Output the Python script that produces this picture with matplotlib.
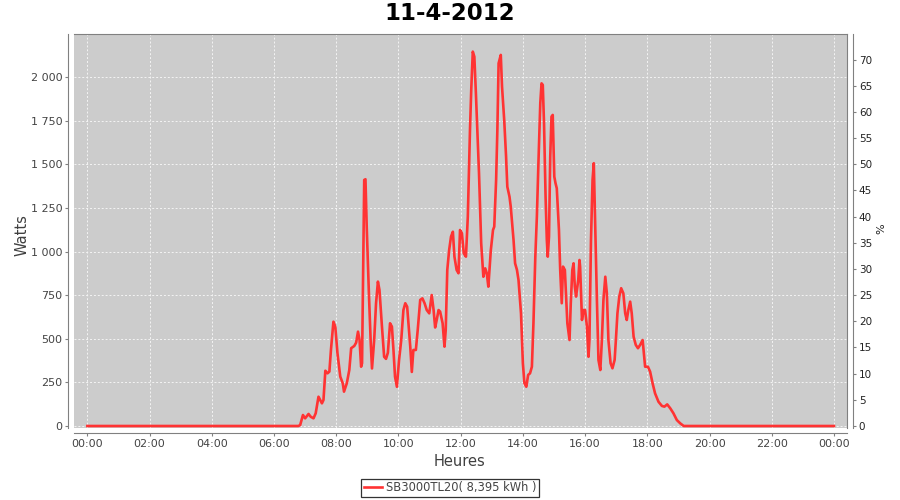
import numpy as np
import matplotlib
matplotlib.use('Agg')
import matplotlib.pyplot as plt
from matplotlib.ticker import FuncFormatter

plt.rcParams['font.family'] = ['DejaVu Sans']

# heure (en heures décimales) et puissance (W)
heures = [0.00, 6.78, 6.84, 6.93, 7.00, 7.11, 7.18, 7.27, 7.34, 7.43, 7.54, 7.59,
          7.65, 7.72, 7.78, 7.83, 7.91, 7.97, 8.04, 8.13, 8.21, 8.25, 8.34, 8.42,
          8.48, 8.58, 8.64, 8.70, 8.75, 8.80, 8.83, 8.90, 8.94, 8.98, 9.05, 9.11,
          9.15, 9.22, 9.28, 9.34, 9.39, 9.47, 9.54, 9.60, 9.66, 9.73, 9.79, 9.84,
          9.89, 9.95, 10.02, 10.09, 10.16, 10.22, 10.28, 10.32, 10.38, 10.43, 10.48,
          10.56, 10.62, 10.70, 10.77, 10.84, 10.91, 10.99, 11.07, 11.13, 11.18, 11.23,
          11.29, 11.34, 11.42, 11.48, 11.52, 11.57, 11.63, 11.69, 11.75, 11.80, 11.87,
          11.93, 11.98, 12.04, 12.10, 12.17, 12.23, 12.30, 12.34, 12.39, 12.44, 12.49,
          12.55, 12.59, 12.66, 12.73, 12.79, 12.84, 12.89, 12.97, 13.04, 13.08, 13.14,
          13.18, 13.22, 13.29, 13.33, 13.40, 13.46, 13.50, 13.57, 13.61, 13.70, 13.75,
          13.81, 13.86, 13.94, 14.00, 14.05, 14.11, 14.17, 14.23, 14.29, 14.34, 14.40,
          14.45, 14.50, 14.56, 14.60, 14.64, 14.68, 14.73, 14.77, 14.80, 14.84, 14.88,
          14.92, 14.96, 15.01, 15.05, 15.09, 15.16, 15.20, 15.25, 15.29, 15.35, 15.39,
          15.43, 15.50, 15.54, 15.59, 15.63, 15.67, 15.71, 15.78, 15.82, 15.84, 15.90,
          15.95, 16.00, 16.06, 16.11, 16.14, 16.19, 16.24, 16.28, 16.32, 16.38, 16.43,
          16.49, 16.54, 16.59, 16.65, 16.70, 16.75, 16.82, 16.88, 16.95, 16.99, 17.04,
          17.10, 17.16, 17.23, 17.29, 17.34, 17.39, 17.45, 17.50, 17.56, 17.63, 17.70,
          17.77, 17.85, 17.89, 17.93, 18.02, 18.09, 18.17, 18.25, 18.36, 18.47, 18.55,
          18.64, 18.74, 18.84, 18.95, 19.06, 19.17, 24.00]
watts = [0, 0, 5, 63, 44, 69, 53, 44, 73, 168, 130, 149,
         317, 302, 312, 436, 598, 570, 417, 283, 245, 197, 245, 321,
         446, 459, 478, 541, 493, 340, 360, 1411, 1415, 1143, 761, 474,
         330, 493, 704, 828, 780, 570, 397, 385, 420, 589, 570, 436,
         283, 225, 379, 493, 665, 704, 684, 589, 455, 310, 436,
         436, 551, 723, 732, 704, 665, 646, 751, 665, 565, 608,
         665, 656, 589, 455, 551, 895, 1009, 1086, 1114, 971, 895,
         876, 1124, 1105, 990, 971, 1200, 1698, 1927, 2147, 2118, 1908,
         1640, 1449, 1048, 856, 904, 876, 799, 1009, 1124, 1143, 1411,
         1698, 2080, 2128, 1946, 1755, 1545, 1372, 1315, 1258, 1067, 933,
         895, 837, 646, 360, 245, 225, 293, 302, 340, 589, 971,
         1200, 1507, 1851, 1965, 1956, 1736, 1315, 1067, 971, 1086, 1545,
         1774, 1784, 1430, 1392, 1363, 1124, 895, 704, 914, 895, 742,
         589, 493, 704, 895, 933, 799, 742, 837, 952, 914, 608,
         665, 665, 570, 397, 493, 1067, 1411, 1507, 1182, 723, 379,
         321, 493, 723, 856, 761, 493, 360, 331, 379, 493, 646,
         742, 790, 761, 646, 608, 665, 713, 646, 512, 465, 446,
         465, 493, 417, 340, 340, 312, 245, 187, 139, 115, 111,
         124, 101, 73, 34, 15, 0, 0]

titre = '11-4-2012'
legende = 'SB3000TL20( 8,395 kWh )'
xticks = list(range(0, 25, 2))
xlabels = ['%02d:00' % (h % 24) for h in xticks]
yticks_w = list(range(0, 2001, 250))
yticks_pct = list(range(0, 71, 5))

fig = plt.figure(figsize=(9, 5), dpi=100)
ax = fig.add_axes([74/900, 1-427.5/500, (847-74)/900, (427.5-34)/500])
ax.set_facecolor('#cccccc')
ax.set_xlim(-0.43, 24.42)
ax.set_ylim(-8.6, 2248)

ax.set_axisbelow(True)
ax.grid(color='#f4f4f4', linestyle=(0, (2, 2)), linewidth=0.7)

ligne, = ax.plot(heures, watts, color='#ff3333', lw=1.9, solid_joinstyle='round')

ax.set_xticks(xticks)
ax.set_xticklabels(xlabels)
ax.set_yticks(yticks_w)
ax.yaxis.set_major_formatter(FuncFormatter(lambda v, p: '{:,}'.format(int(v)).replace(',', ' ')))
ax.tick_params(axis='both', direction='out', length=2.5, width=0.8, color='#808080',
               labelsize=8, labelcolor='#444444', pad=2)

for s in ['left', 'bottom']:
    ax.spines[s].set_position(('outward', 4))
    ax.spines[s].set_color('#808080')
for s in ['top', 'right']:
    ax.spines[s].set_color('#808080')
    ax.spines[s].set_linewidth(0.8)

ax2 = ax.twinx()
ax2.set_ylim(-0.29, 74.9)
ax2.set_yticks(yticks_pct)
ax2.tick_params(axis='y', direction='out', length=2.5, width=0.8, color='#808080',
                labelsize=7.5, labelcolor='#222222', pad=2)
for s in ['left', 'bottom', 'top']:
    ax2.spines[s].set_visible(False)
ax2.spines['right'].set_position(('outward', 4))
ax2.spines['right'].set_color('#808080')

fig.text(0.5, 1-13.5/500, titre, ha='center', va='center', fontsize=16.5, fontweight='bold')
fig.text(22/900, 1-235/500, 'Watts', rotation=90, ha='center', va='center',
         fontsize=10.5, color='#404040')
fig.text(460/900, 1-461/500, 'Heures', ha='center', va='center',
         fontsize=10.5, color='#404040')
fig.text(881/900, 1-229/500, '%', rotation=90, ha='center', va='center',
         fontsize=8, color='#222222')

leg = fig.legend([ligne], [legende], loc='center', bbox_to_anchor=(450/900, 1-488/500),
                 fontsize=8.3, frameon=True, fancybox=False, handlelength=1.6,
                 handletextpad=0.3, borderpad=0.25, borderaxespad=0)
leg.get_frame().set_edgecolor('black')
leg.get_frame().set_linewidth(0.9)
for t in leg.get_texts():
    t.set_color('#444444')

fig.savefig('out.png', dpi=100)
